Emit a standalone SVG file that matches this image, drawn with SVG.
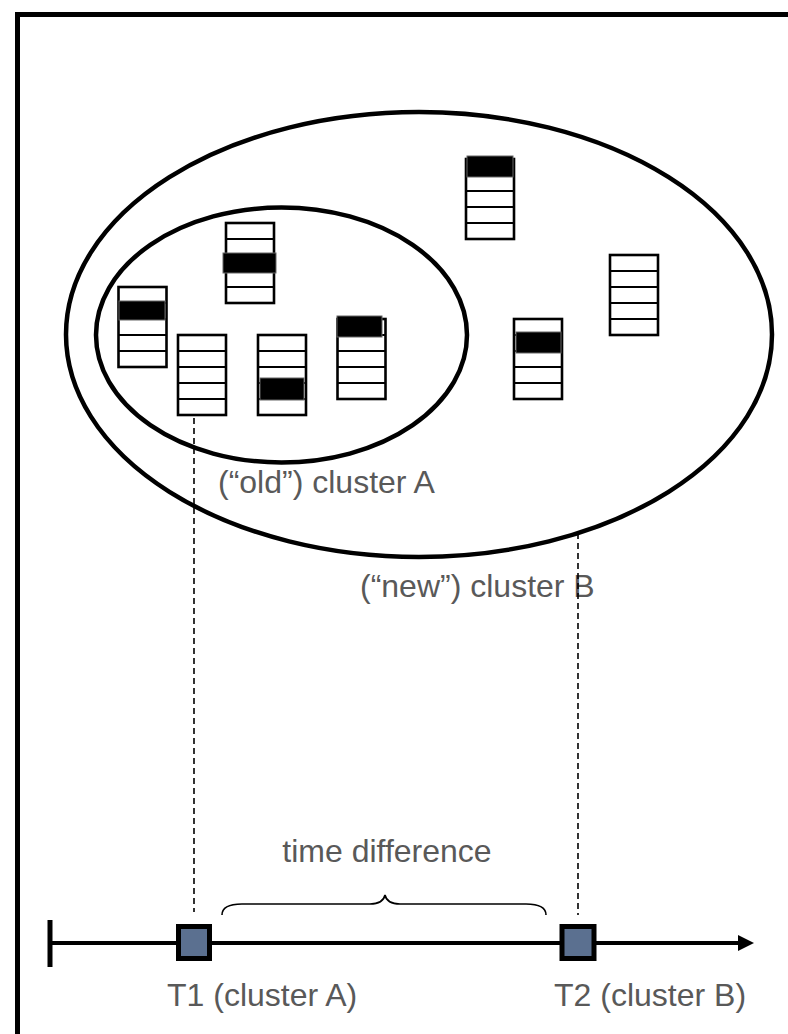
<svg xmlns="http://www.w3.org/2000/svg" xmlns:xlink="http://www.w3.org/1999/xlink" width="788" height="1034" viewBox="0 0 788 1034">
<style>
.frame{fill:none;stroke:#000;stroke-width:5}
.ell{fill:none;stroke:#000;stroke-width:4.5}
.cell{fill:#fff;stroke:#000;stroke-width:2.6}
.div{stroke:#000;stroke-width:2}
.bar{fill:#000;stroke:#666;stroke-width:1}
.dash{stroke:#000;stroke-width:1.6;stroke-dasharray:6,4;fill:none}
.axis{stroke:#000;stroke-width:4;fill:none}
.mark{fill:#5b7090;stroke:#000;stroke-width:5}
.brace{fill:none;stroke:#000;stroke-width:1.6}
.lbl{font-family:"Liberation Sans",Arial,sans-serif;font-size:32px;fill:#595959}
</style>
<defs>
<g id="stack">
<rect class="cell" x="0" y="0" width="48" height="80"/>
<line class="div" x1="0" y1="16" x2="48" y2="16"/>
<line class="div" x1="0" y1="32" x2="48" y2="32"/>
<line class="div" x1="0" y1="48" x2="48" y2="48"/>
<line class="div" x1="0" y1="64" x2="48" y2="64"/>
</g>
</defs>
<rect width="788" height="1034" fill="#fff"/>
<rect class="frame" x="17.5" y="14.5" width="800" height="1050"/>

<g id="clusterB">
<ellipse class="ell" cx="419" cy="334.5" rx="353" ry="222.5"/>
<text class="lbl" x="360" y="597">(“new”) cluster B</text>
</g>
<g id="clusterA">
<ellipse class="ell" cx="281.5" cy="335" rx="185.5" ry="127.5"/>
<text class="lbl" x="218" y="493">(“old”) cluster A</text>
</g>

<g id="stack1"><use xlink:href="#stack" x="118.5" y="287"/><rect class="bar" x="119" y="301" width="46" height="19"/></g>
<g id="stack2"><use xlink:href="#stack" x="226" y="223"/><rect class="bar" x="223" y="253" width="53" height="20"/></g>
<g id="stack3"><use xlink:href="#stack" x="178" y="335"/></g>
<g id="stack4"><use xlink:href="#stack" x="258" y="335"/><rect class="bar" x="260" y="378" width="44" height="22"/></g>
<g id="stack5"><use xlink:href="#stack" x="337.5" y="319"/><rect class="bar" x="337" y="316" width="45" height="21"/></g>
<g id="stack6"><use xlink:href="#stack" x="466" y="159"/><rect class="bar" x="467" y="156" width="46" height="21"/></g>
<g id="stack7"><use xlink:href="#stack" x="514" y="319"/><rect class="bar" x="516" y="332" width="45" height="21"/></g>
<g id="stack8"><use xlink:href="#stack" x="610" y="255"/></g>

<g id="connectors">
<line class="dash" x1="194" y1="418" x2="194" y2="912"/>
<line class="dash" x1="578" y1="533" x2="578" y2="915"/>
<line class="axis" x1="50" y1="943" x2="740" y2="943"/>
<line stroke="#000" stroke-width="5" x1="50" y1="920" x2="50" y2="967"/>
<polygon points="738,935 754,943 738,951" fill="#000"/>
<path class="brace" d="M222,915 Q222,904 242,904 L370,904 Q383,904 385,895 Q387,904 400,904 L526,904 Q546,904 546,915"/>
</g>

<g id="diff">
<text class="lbl" x="387" y="862" text-anchor="middle">time difference</text>
</g>
<g id="T1">
<rect class="mark" x="178.5" y="926.5" width="31" height="32"/>
<text class="lbl" x="167" y="1006">T1 (cluster A)</text>
</g>
<g id="T2">
<rect class="mark" x="562" y="926.5" width="32" height="32"/>
<text class="lbl" x="554" y="1006">T2 (cluster B)</text>
</g>
</svg>
